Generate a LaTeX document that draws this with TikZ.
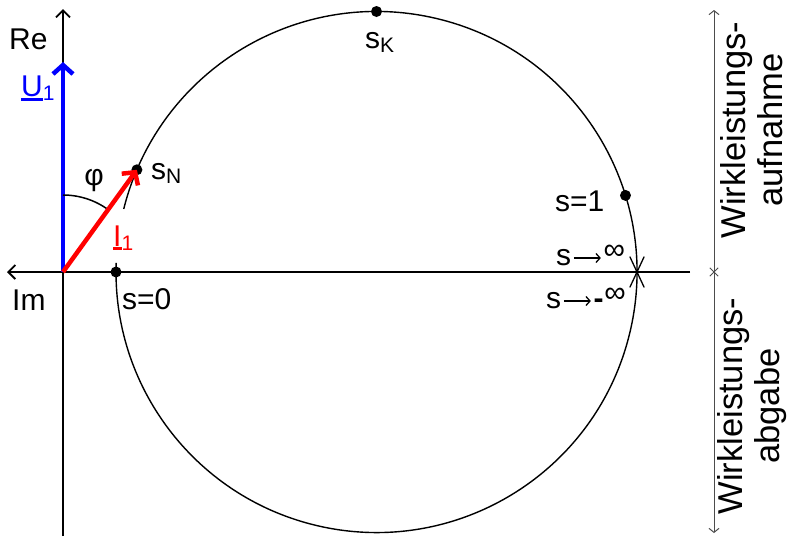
\documentclass[tikz,border=0pt]{standalone}
\usepackage{fontspec}
\setmainfont{Liberation Sans}
\usetikzlibrary{arrows.meta}
\newcommand\mysub[1]{\raisebox{-4.5pt}{\fontsize{21}{21}\selectfont #1}}
\newcommand\myul[2]{\setbox0\hbox{#1}\rlap{\rule[#2]{\wd0}{2.8pt}}#1}
\newcommand\myarr{\kern2pt\tikz[baseline=0pt]{\draw[line width=1.3pt,-{Straight Barb[length=4pt,width=9pt,line width=1.3pt]}] (0pt,7pt) -- (27pt,7pt);}\kern2pt}
\begin{document}
\begin{tikzpicture}[x=1pt,y=-1pt,
  lbl/.style={font=\fontsize{30}{33}\selectfont, inner sep=0pt},
  side/.style={font=\fontsize{34.5}{37}\selectfont, inner sep=0pt, align=center, rotate=90},
  dot/.style={circle, fill=black, inner sep=0pt, minimum size=11pt},
  axis/.style={line width=1.8pt},
  axtip/.style={-{Straight Barb[length=7pt,width=14pt,line width=1.8pt]}},
  vec/.style={line width=4.5pt, -{Straight Barb[length=9pt,width=20pt,line width=4.5pt]}},
  circ/.style={line width=1.4pt},
  xmark/.style={line width=1.3pt}
]
\useasboundingbox (0,0) rectangle (790,536);
\def\R{260.5}
% coordinates
\coordinate (O) at (63,272);
\coordinate (C) at (376.5,272);
\coordinate (ytop) at (63,9);
\coordinate (ybot) at (63,536);
\coordinate (xleft) at (7,272);
\coordinate (xright) at (690,272);
\coordinate (Utip) at (63,62);
\coordinate (rtop) at (714,10);
\coordinate (rbot) at (714,533);
\coordinate (rmid) at (714,272);
\coordinate (sinf) at ([shift={(0:\R)}]C);
% axes
\draw[axis,axtip] (ybot) -- (ytop);
\draw[axis,axtip] (xright) -- (xleft);
% circle with gap near I1 label
\draw[circ] ([shift={(194:\R)}]C) arc[start angle=194, end angle=542, radius=\R];
% s -> infinity mark
\draw[xmark] ([shift={(-65:17)}]sinf) -- ([shift={(115:17)}]sinf);
\draw[xmark] ([shift={(65:17)}]sinf) -- ([shift={(245:17)}]sinf);
% points
\node[dot] (sK) at ([shift={(270:\R)}]C) {};
\node[dot] (sN) at ([shift={(203.1:\R)}]C) {};
\node[dot] (s1) at ([shift={(342.9:\R)}]C) {};
\node[dot] (s0) at ([shift={(180:\R)}]C) {};
% phasors
\draw[vec,blue] (O) -- (Utip);
\draw[line width=1.5pt] ([shift={(270:77)}]O) arc[start angle=270, end angle=306, radius=77];
\draw[vec,red] (O) -- (sN.center);
% right scale
\draw[line width=1pt, black!70, {Straight Barb[length=4pt,width=10pt]}-{Straight Barb[length=4pt,width=10pt]}] (rtop) -- (rbot);
\draw[line width=1pt, black!70] ([shift={(45:6)}]rmid) -- ([shift={(225:6)}]rmid);
\draw[line width=1pt, black!70] ([shift={(135:6)}]rmid) -- ([shift={(315:6)}]rmid);
% labels
\node[lbl, anchor=base west] (Re) at (9,49) {Re};
\node[lbl, anchor=base west] (Im) at (12,310) {Im};
\node[lbl, anchor=base west, text=blue] (U1) at (21,96) {\myul{U}{-5pt}\mysub{1}};
\node[lbl] (phi) at (94,181) {φ};
\node[lbl, anchor=base west, text=red] (I1) at (113,246) {\myul{I}{-4pt}\mysub{1}};
\node[lbl, anchor=base west] (sNl) at (151,179) {s\mysub{N}};
\node[lbl, anchor=base west] (s0l) at (122,309) {s=0};
\node[lbl, anchor=base west] (sKl) at (365,48) {s\mysub{K}};
\node[lbl, anchor=base west] (s1l) at (555,211) {s=1};
\node[lbl, anchor=base west] (sinfl) at (556,265) {s\myarr\raisebox{6pt}{∞}};
\node[lbl, anchor=base west] (sminfl) at (546,308) {s\myarr\textbf{-}\kern1pt\raisebox{6pt}{∞}};
\node[side] (auf) at (752,130) {Wirkleistungs-\\aufnahme};
\node[side] (ab) at (752,406) {Wirkleistungs-\\abgabe};
\end{tikzpicture}
\end{document}
